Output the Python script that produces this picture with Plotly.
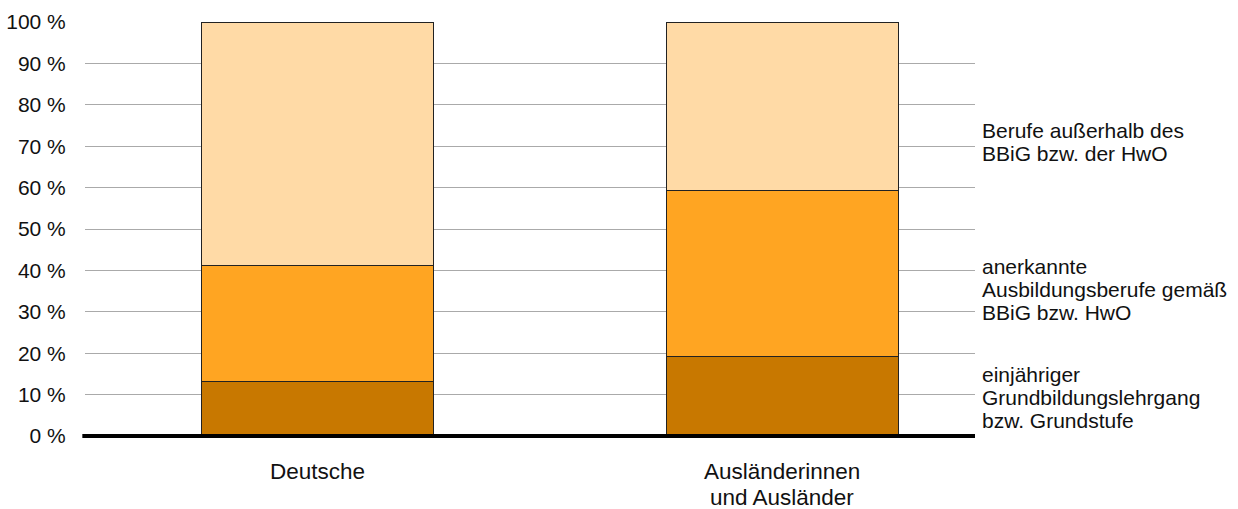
import plotly.graph_objects as go

categories = [["Deutsche"], ["Ausländerinnen", "und Ausländer"]]
series_names = [
    ["einjähriger", "Grundbildungslehrgang", "bzw. Grundstufe"],
    ["anerkannte", "Ausbildungsberufe gemäß", "BBiG bzw. HwO"],
    ["Berufe außerhalb des", "BBiG bzw. der HwO"],
]
grundstufe = [13.1, 19.2]
anerkannte = [28.2, 40.0]
ausserhalb = [58.7, 40.8]
colors = ["#C87800", "#FFA522", "#FFDAA6"]
label_levels = [9.4, 35.3, 70.9]
y_ticks = [0, 10, 20, 30, 40, 50, 60, 70, 80, 90, 100]
y_ticktext = [f"{v} %" for v in y_ticks]

xpos = list(range(len(categories)))
font = "Liberation Sans, Arial, sans-serif"
txt_color = "#111111"

fig = go.Figure()
for name, vals, col in zip(series_names, [grundstufe, anerkannte, ausserhalb], colors):
    fig.add_trace(go.Bar(
        x=xpos, y=vals, name=" ".join(name), width=0.5,
        marker=dict(color=col, line=dict(color="#222222", width=1)),
        showlegend=False,
    ))

# series labels at the right, one annotation per line (23 px line spacing)
for lines, yy in zip(series_names, label_levels):
    n = len(lines)
    for i, line in enumerate(lines):
        fig.add_annotation(
            x=1, xref="paper", xanchor="left", xshift=5,
            y=yy, yref="y", yanchor="middle", yshift=((n - 1) / 2 - i) * 23,
            text=line, showarrow=False, align="left",
            font=dict(family=font, size=21, color=txt_color),
        )

# category labels below the axis
for xi, lines in zip(xpos, categories):
    for i, line in enumerate(lines):
        fig.add_annotation(
            x=xi, xref="x", xanchor="center",
            y=0, yref="paper", yanchor="middle", yshift=-35 - 26.5 * i,
            text=line, showarrow=False, borderpad=0,
            font=dict(family=font, size=22.5, color=txt_color),
        )

fig.add_shape(type="line", xref="paper", yref="paper", x0=-0.003, x1=1, y0=0, y1=0,
              line=dict(color="black", width=4), layer="above")

fig.update_layout(
    width=1238, height=509,
    margin=dict(l=85, r=263, t=22, b=73),
    barmode="stack",
    plot_bgcolor="white", paper_bgcolor="white",
    font=dict(family=font, size=21, color=txt_color),
    xaxis=dict(
        range=[-0.5, 1.414], tickvals=xpos, showticklabels=False,
        showgrid=False, zeroline=False, showline=False, automargin=False,
        ticks="",
    ),
    yaxis=dict(
        range=[0, 100], tickvals=y_ticks, ticktext=y_ticktext,
        showgrid=True, gridcolor="#AAAAAA", gridwidth=1,
        zeroline=False, showline=False, automargin=False,
        ticks="outside", ticklen=14, tickcolor="rgba(0,0,0,0)",
        tickfont=dict(family=font, size=21, color=txt_color),
    ),
)

fig.write_html("out.html")
